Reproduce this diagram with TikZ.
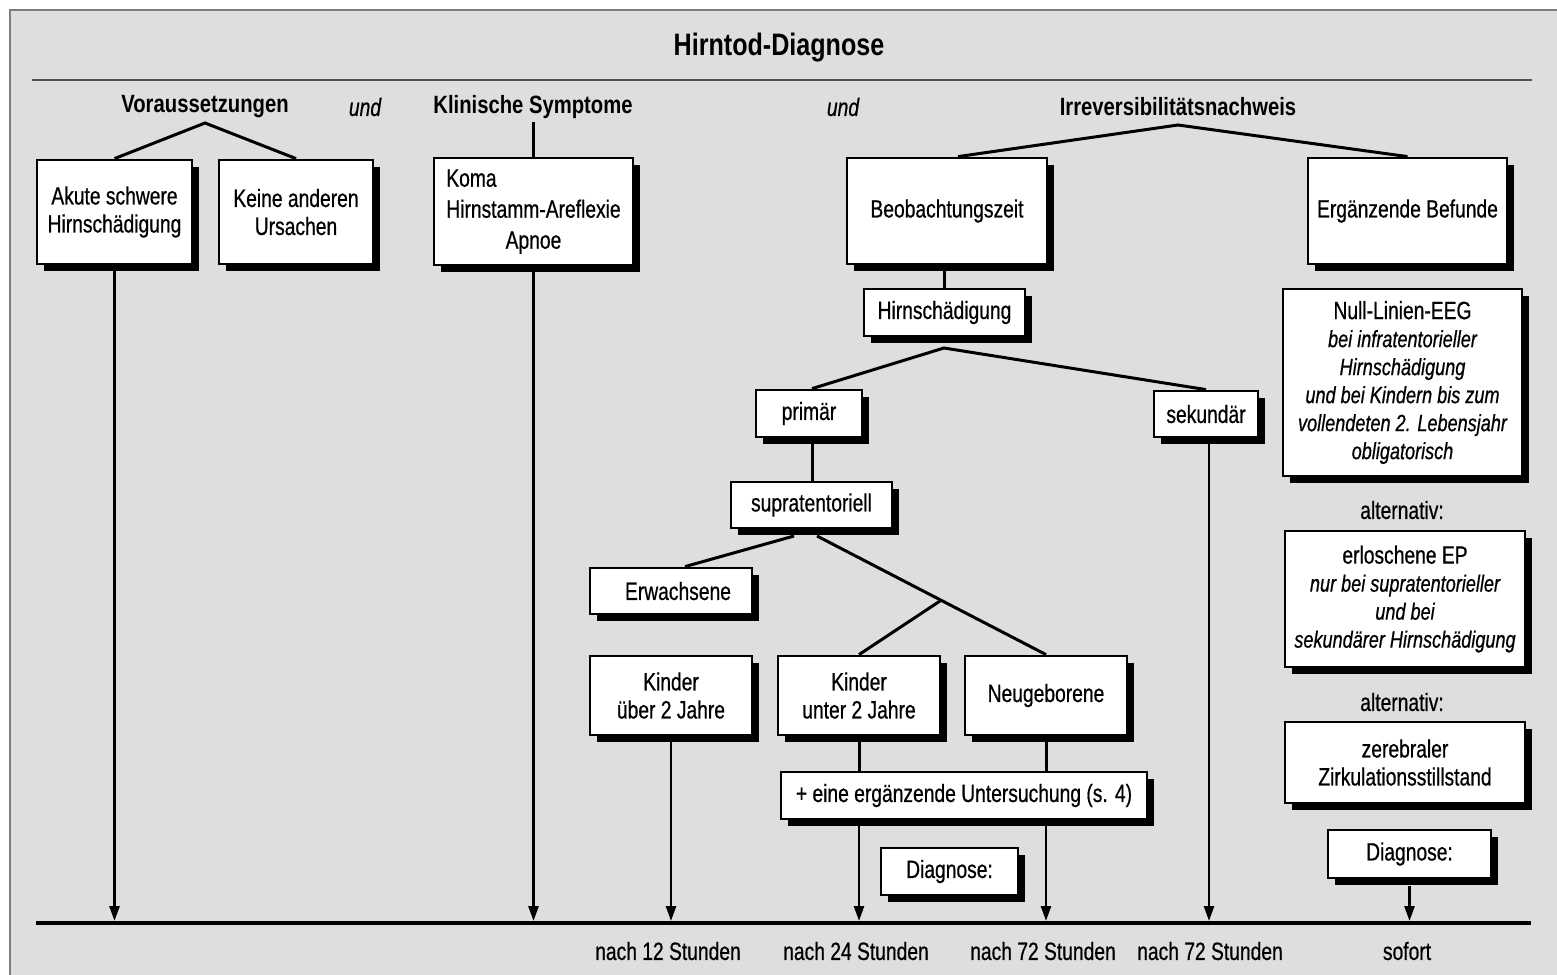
\documentclass[tikz,border=0pt]{standalone}
\usepackage{fontspec}
\setmainfont{Liberation Sans}[FakeStretch=0.77, FakeBold=0.6]
\newfontfamily\hdfont{Liberation Sans}[FakeStretch=0.81]
\usetikzlibrary{shadows,arrows.meta}
\definecolor{bg}{RGB}{222,222,222}
\definecolor{framec}{RGB}{125,125,125}
\definecolor{rulec}{RGB}{80,80,80}
\newcommand\fsbox{\fontsize{25}{28}\selectfont}
\newcommand\fsit{\fontsize{23.5}{28}\selectfont\itshape}
\newcommand\fshd{\hdfont\bfseries\fontsize{25}{28}\selectfont}
\newcommand\fstitle{\hdfont\bfseries\fontsize{31}{34}\selectfont}
\tikzset{
  box/.style={draw, line width=2.8pt, fill=white, align=center, inner sep=0pt,
    font=\fsbox,
    drop shadow={shadow xshift=7pt, shadow yshift=-7pt, fill=black, opacity=1}},
  lbl/.style={inner sep=0pt, font=\fsbox},
  hd/.style={inner sep=0pt, font=\fshd},
  conn/.style={line width=3pt},
  arr/.style={line width=2.6pt, -{Triangle[width=10pt,length=15pt]}},
}
\begin{document}
\begin{tikzpicture}[x=1pt,y=-1pt]
\useasboundingbox (0,0) rectangle (1557,974);
\fill[bg] (10,10) rectangle (1600,1010);
\draw[framec, line width=2pt] (1600,10) -- (10,10) -- (10,1010);
% title and top rule
\node[inner sep=0pt, font=\fstitle] (title) at (779,48) {Hirntod-Diagnose};
\coordinate (ruleL) at (32,80);
\coordinate (ruleR) at (1532,80);
\draw[rulec, line width=2pt] (ruleL) -- (ruleR);
% headers
\node[hd] (vor) at (205,107) {Voraussetzungen};
\node[inner sep=0pt, font=\fsbox\itshape] (und1) at (365,107) {und};
\node[hd] (klin) at (533,107) {Klinische Symptome};
\node[inner sep=0pt, font=\fsbox\itshape] (und2) at (843,107) {und};
\node[hd] (irr) at (1178,107) {Irreversibilitätsnachweis};
% boxes
\node[box, minimum width=155pt, minimum height=104pt] (A) at (114.5,212) {Akute schwere\\Hirnschädigung};
\node[box, minimum width=154pt, minimum height=104pt] (K) at (296,212) {Keine anderen\\Ursachen};
\node[box, minimum width=199pt, minimum height=107pt, font=\fontsize{25}{31}\selectfont] (Koma) at (533.5,211.5)
  {\begin{tabular}{@{}l@{}}Koma\\Hirnstamm-Areflexie\\\multicolumn{1}{@{}c@{}}{Apnoe}\end{tabular}};
\node[box, minimum width=200pt, minimum height=106pt] (Beob) at (947,211) {Beobachtungszeit};
\node[box, minimum width=199pt, minimum height=106pt] (Erg) at (1407.5,211) {Ergänzende Befunde};
\node[box, minimum width=161pt, minimum height=47pt] (Hirn) at (944.5,312.5) {Hirnschädigung};
\node[box, minimum width=106pt, minimum height=47pt] (prim) at (809,413.5) {primär};
\node[box, minimum width=104pt, minimum height=46pt] (sek) at (1206,414) {sekundär};
\node[box, minimum width=161pt, minimum height=46pt] (supra) at (811.5,505) {supratentoriell};
\node[box, minimum width=162pt, minimum height=46pt, text width=162pt, align=center] (Erw) at (671,591) {\hspace*{14pt}Erwachsene};
\node[box, minimum width=162pt, minimum height=79pt] (KUe) at (671,695.5) {Kinder\\über 2 Jahre};
\node[box, minimum width=162pt, minimum height=79pt] (KU) at (859,695.5) {Kinder\\unter 2 Jahre};
\node[box, minimum width=162pt, minimum height=79pt] (Neu) at (1046,695.5) {Neugeborene};
\node[box, minimum width=366pt, minimum height=47pt] (Plus) at (964,795.5) {+ eine ergänzende Untersuchung (s. 4)};
\node[box, minimum width=137pt, minimum height=47pt] (Diag1) at (949.5,871.5) {Diagnose:};
\node[box, minimum width=239pt, minimum height=187pt] (Null) at (1402.5,382.5)
  {Null-Linien-EEG\\\fsit bei infratentorieller\\\fsit Hirnschädigung\\\fsit und bei Kindern bis zum\\\fsit vollendeten 2. Lebensjahr\\\fsit obligatorisch};
\node[lbl] (alt1) at (1402,510) {alternativ:};
\node[box, minimum width=240pt, minimum height=136pt] (EP) at (1405,599)
  {erloschene EP\\\fsit nur bei supratentorieller\\\fsit und bei\\\fsit sekundärer Hirnschädigung};
\node[lbl] (alt2) at (1402,702) {alternativ:};
\node[box, minimum width=240pt, minimum height=81pt] (Zer) at (1405,762.5) {zerebraler\\Zirkulationsstillstand};
\node[box, minimum width=163pt, minimum height=48pt] (Diag2) at (1409.5,854) {Diagnose:};
% connectors
\coordinate (vap) at (205,123);
\draw[conn] (A.north) -- (vap) -- (K.north);
\coordinate (kap) at (533.5,122);
\draw[conn] (kap) -- (Koma.north);
\coordinate (iap) at (1178,125);
\draw[conn] ([xshift=11pt]Beob.north) -- (iap) -- (Erg.north);
\draw[conn] (Hirn.north) -- (Hirn.north |- Beob.south);
\coordinate (hap) at (944,348);
\draw[conn] ([xshift=3pt]prim.north) -- (hap) -- (sek.north);
\draw[conn] ([xshift=3pt]prim.south) -- ([xshift=3pt]prim.south |- supra.north);
\coordinate (sl) at (794,536);
\coordinate (sr) at (817,536);
\coordinate (sj) at (940,601);
\draw[conn] (sl) -- ([xshift=14pt]Erw.north);
\draw[conn] (sr) -- (Neu.north);
\draw[conn] (sj) -- (KU.north);
\draw[conn] (KU.south) -- (KU.south |- Plus.north);
\draw[conn] (Neu.south) -- (Neu.south |- Plus.north);
% timeline
\coordinate (tlL) at (36,923);
\coordinate (tlR) at (1531,923);
\coordinate (tl) at (0,921);
\draw[line width=4pt] (tlL) -- (tlR);
\draw[arr] (A.south) -- (A.south |- tl);
\draw[arr] (Koma.south) -- (Koma.south |- tl);
\draw[arr] (KUe.south) -- (KUe.south |- tl);
\draw[arr] (Plus.south -| KU.south) -- (KU.south |- tl);
\draw[arr] (Plus.south -| Neu.south) -- (Neu.south |- tl);
\draw[arr] ([xshift=3pt]sek.south) -- ([xshift=3pt]sek.south |- tl);
\draw[arr] ([yshift=-7pt]Diag2.south) -- (Diag2.south |- tl);
% bottom labels
\node[lbl] (t1) at (668,951) {nach 12 Stunden};
\node[lbl] (t2) at (856,951) {nach 24 Stunden};
\node[lbl] (t3) at (1043,951) {nach 72 Stunden};
\node[lbl] (t4) at (1210,951) {nach 72 Stunden};
\node[lbl] (t5) at (1407,951) {sofort};
\end{tikzpicture}
\end{document}
